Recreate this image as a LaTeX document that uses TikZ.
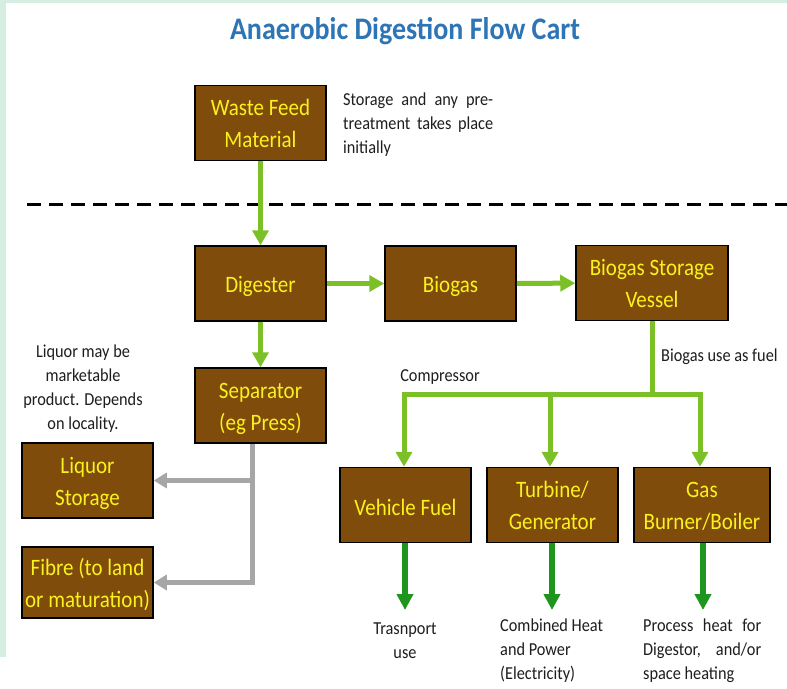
\documentclass[tikz,border=0pt]{standalone}
\usepackage{fontspec}
\usepackage{graphicx}
\setmainfont{Carlito}
\usetikzlibrary{arrows.meta}
\definecolor{mint}{RGB}{214,238,226}
\definecolor{boxbrown}{RGB}{127,76,12}
\definecolor{boxyellow}{RGB}{250,242,30}
\definecolor{lgreen}{RGB}{124,192,40}
\definecolor{dgreen}{RGB}{30,150,30}
\definecolor{arrgray}{RGB}{166,166,166}
\definecolor{titleblue}{RGB}{46,117,182}
\definecolor{txt}{RGB}{30,30,30}
\newcommand{\vst}[1]{\scalebox{1}[1.12]{#1}}
\newcommand{\mylines}[2]{\vst{\begin{tabular}{@{}#1@{}}#2\end{tabular}}}
\newcommand{\bxone}[1]{\raisebox{-2.5pt}[\height][\depth]{\vst{#1}}}
\newcommand{\bxtwo}[1]{\raisebox{-2.5pt}[\height][\depth]{\mylines{c}{#1}}}
\begin{document}
\begin{tikzpicture}[x=1pt,y=-1pt,
  box/.style={draw=black, line width=1.5pt, fill=boxbrown, text=boxyellow,
    font=\fontsize{21}{28.5}\selectfont, inner sep=0pt,
    minimum width=131pt, minimum height=75pt},
  note/.style={text=txt, font=\fontsize{16.3}{21.5}\selectfont, inner sep=0pt},
  gline/.style={draw=lgreen, line width=5pt},
  garrow/.style={gline, -{Triangle[width=16pt,length=15pt]}},
  darrow/.style={draw=dgreen, line width=6pt, -{Triangle[width=16pt,length=16pt]}},
  grayarrow/.style={draw=arrgray, line width=5pt, -{Triangle[width=15pt,length=13pt]}},
]
\useasboundingbox (0,0) rectangle (787,688);
\fill[white] (0,0) rectangle (787,688);
\fill[mint] (0,0) rectangle (787,2.5);
\fill[mint] (0,0) rectangle (6,657);

% title
\node[text=titleblue, inner sep=0pt, anchor=base,
  font=\fontsize{28}{32}\bfseries] (title) at (405,39) {\scalebox{1}[1.12]{Anaerobic Digestion Flow Cart}};

% dashed separator
\draw[line width=3pt, dash pattern=on 14pt off 8pt] (27,204) -- (787,204);

% boxes
\node[box] (waste) at (260.5,123) {\bxtwo{Waste Feed\\Material}};
\node[box] (dig) at (260.5,283.5) {\bxone{Digester}};
\node[box] (bio) at (450.5,283.5) {\bxone{Biogas}};
\node[box, minimum width=152pt] (store) at (652,283) {\bxtwo{Biogas Storage\\Vessel}};
\node[box] (sep) at (260.5,405.5) {\bxtwo{Separator\\(eg Press)}};
\node[box] (liq) at (87.5,480.5) {\bxtwo{Liquor\\Storage}};
\node[box, minimum height=71pt] (fib) at (87.5,582.5) {\bxtwo{Fibre (to land\\or maturation)}};
\node[box] (vf) at (405.5,505) {\bxone{Vehicle Fuel}};
\node[box] (turb) at (552.5,505) {\bxtwo{Turbine/\\Generator}};
\node[box, minimum width=136pt] (gb) at (702,505) {\bxtwo{Gas\\Burner/Boiler}};

% notes
\node[note, anchor=north west] (n1) at (343,88) {\mylines{l}{\makebox[150pt][s]{Storage and any pre-}\\\makebox[150pt][s]{treatment takes place}\\initially}};
\node[note, anchor=north] (n2) at (83,340) {\mylines{c}{Liquor may be\\marketable\\product. Depends\\on locality.}};
\node[note, anchor=base] (n3) at (440,381) {\vst{Compressor}};
\node[note, anchor=base west] (n4) at (661,361) {\vst{Biogas use as fuel}};
\node[note, anchor=north] (n5) at (405,617) {\mylines{c}{Trasnport\\use}};
\node[note, anchor=north west] (n6) at (500,614) {\mylines{l}{Combined Heat\\and Power\\(Electricity)}};
\node[note, anchor=north west] (n7) at (643,614) {\mylines{l}{\makebox[118pt][s]{Process heat for}\\\makebox[118pt][s]{Digestor, and/or}\\space heating}};

% green flow arrows
\draw[garrow] (waste) -- (dig);
\draw[garrow] (dig) -- (bio);
\draw[garrow] (bio) -- (store);
\draw[garrow] (dig) -- (sep);

% branch to uses
\coordinate (jL) at (404,394);
\coordinate (jM) at (550,394);
\coordinate (jR) at (700,394);
\draw[gline] (store.south) -- (store.south |- jL);
\draw[gline, {Triangle[width=16pt,length=15pt]}-{Triangle[width=16pt,length=15pt]}]
  (jL |- vf.north) -- (jL) -- (jR) -- (jR |- gb.north);
\draw[garrow] (jM) -- (jM |- turb.north);

% dark green outputs
\coordinate (e1) at (405,610);
\coordinate (e2) at (552,610);
\coordinate (e3) at (703,610);
\draw[darrow] (vf.south -| e1) -- (e1);
\draw[darrow] (turb.south -| e2) -- (e2);
\draw[darrow] (gb.south -| e3) -- (e3);

% grey separator outputs
\coordinate (gx) at (252,443);
\draw[grayarrow] (sep.south -| gx) -- (gx |- fib.east) -- (fib.east);
\draw[grayarrow] (gx |- liq.east) -- (liq.east);
\end{tikzpicture}
\end{document}
